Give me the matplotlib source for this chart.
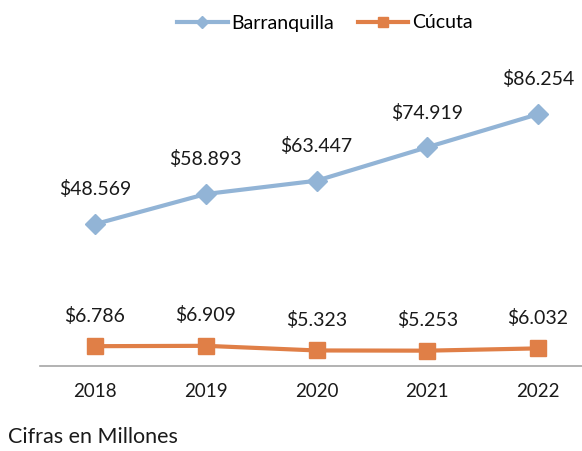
import matplotlib.pyplot as plt
import numpy as np

plt.rcParams['font.family'] = ['Lato', 'DejaVu Sans']

years = ['2018', '2019', '2020', '2021', '2022']
barranquilla = [48.569, 58.893, 63.447, 74.919, 86.254]
cucuta = [6.786, 6.909, 5.323, 5.253, 6.032]

azul = '#92B4D6'
naranja = '#E07F47'

fig = plt.figure(figsize=(5.82, 4.51), dpi=100)
# el eje se extiende un poco más allá del borde derecho
ax = fig.add_axes([39.5 / 582, (451 - 366) / 451, 554 / 582, 292 / 451])

x = np.arange(len(years))
ax.plot(x, barranquilla, color=azul, lw=3, marker='D', ms=10,
        label='Barranquilla')
ax.plot(x, cucuta, color=naranja, lw=3, marker='s', ms=11,
        label='Cúcuta')

def fmt(v):
    return '$' + f'{v:.3f}'

for xi, v in zip(x, barranquilla):
    ax.annotate(fmt(v), (xi, v), xytext=(0, 25), textcoords='offset points',
                ha='center', va='center', fontsize=14, color='#1a1a1a')
for xi, v in zip(x, cucuta):
    ax.annotate(fmt(v), (xi, v), xytext=(0, 22), textcoords='offset points',
                ha='center', va='center', fontsize=14, color='#1a1a1a')

ax.set_xlim(-0.5, 4.5)
ax.set_ylim(0, 100)
ax.set_xticks(x)
ax.set_xticklabels(years, fontsize=13.5, color='#1a1a1a')
ax.tick_params(axis='x', length=0, pad=12)
ax.set_yticks([])
for s in ['top', 'right', 'left']:
    ax.spines[s].set_visible(False)
ax.spines['bottom'].set_color('#A6A6A6')
ax.spines['bottom'].set_linewidth(1.2)

leg = fig.legend(loc='center', bbox_to_anchor=(325 / 582, 1 - 23 / 451),
                 ncol=2, frameon=False, fontsize=14, handlelength=2.6,
                 columnspacing=1.2, handletextpad=0.2, markerscale=0.6)

fig.text(8 / 582, 1 - 437 / 451, 'Cifras en Millones', fontsize=15.5,
         va='center', ha='left', color='#1a1a1a')

fig.savefig('out.png', dpi=100)
